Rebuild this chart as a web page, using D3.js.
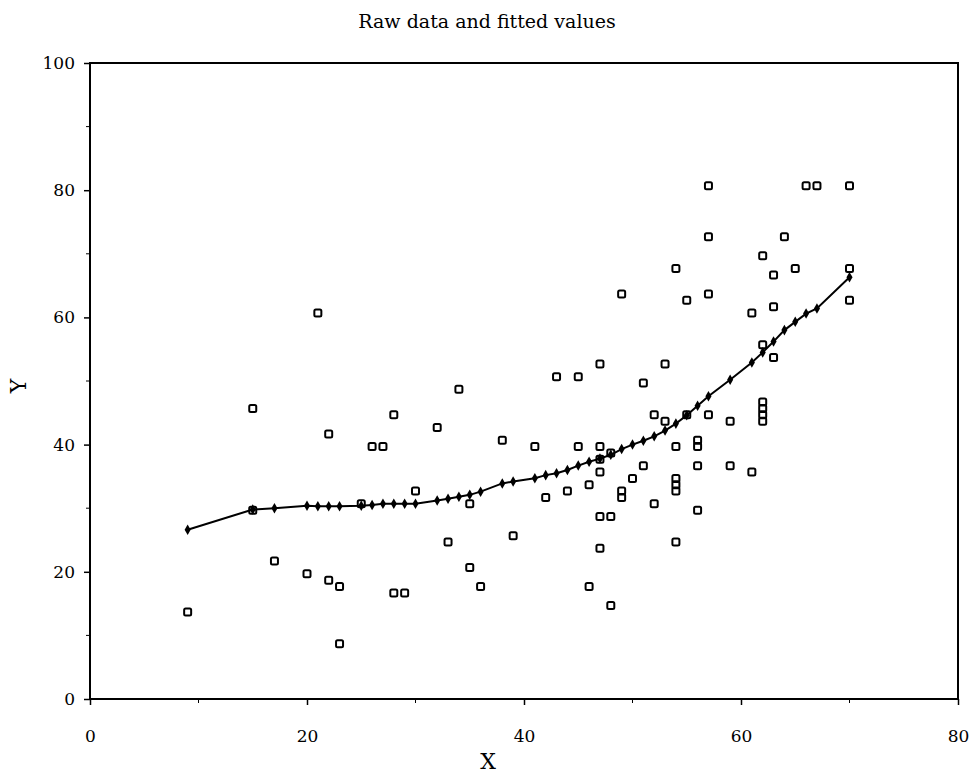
<!DOCTYPE html>
<html>
<head>
<meta charset="utf-8">
<script src="https://cdn.jsdelivr.net/npm/d3@7"></script>
<style>
  body { margin: 0; background: #fff; }
  text { font-family: "DejaVu Serif", "Liberation Serif", serif; fill: #000; }
</style>
</head>
<body>
<script>
// Width and height
var w = 970;
var h = 773;

// Raw data (x, y)
var rawX = [9, 15, 15, 17, 20, 21, 22, 22, 23, 23, 25, 26, 27, 28, 28, 29, 30, 32, 33, 34, 35, 35, 36,
  38, 39, 41, 42, 43, 44, 45, 45, 46, 46, 47, 47, 47, 47, 47, 47, 48, 48, 48, 49, 49, 49,
  50, 51, 51, 52, 52, 53, 53, 54, 54, 54, 54, 54, 54, 55, 55, 56, 56, 56, 56,
  57, 57, 57, 57, 59, 59, 61, 61, 62, 62, 62, 62, 62, 62, 63, 63, 63, 64, 65, 66, 67, 70, 70, 70];
var rawY = [14, 46, 30, 22, 20, 61, 42, 19, 18, 9, 31, 40, 40, 45, 17, 17, 33, 43, 25, 49, 31, 21, 18,
  41, 26, 40, 32, 51, 33, 51, 40, 34, 18, 53, 40, 38, 36, 29, 24, 29, 15, 39, 33, 32, 64,
  35, 37, 50, 45, 31, 44, 53, 40, 35, 34, 33, 25, 68, 45, 63, 41, 40, 37, 30,
  81, 73, 64, 45, 44, 37, 61, 36, 47, 46, 45, 44, 70, 56, 67, 62, 54, 73, 68, 81, 81, 81, 68, 63];

// Fitted values at each distinct x
var fitX = [9, 15, 17, 20, 21, 22, 23, 25, 26, 27, 28, 29, 30, 32, 33, 34, 35, 36, 38, 39,
  41, 42, 43, 44, 45, 46, 47, 48, 49, 50, 51, 52, 53, 54, 55, 56, 57, 59, 61, 62, 63, 64, 65, 66, 67, 70];
var fitY = [26.6, 29.8, 30.0, 30.4, 30.3, 30.3, 30.3, 30.4, 30.5, 30.7, 30.7, 30.7, 30.7, 31.2, 31.5, 31.8, 32.1, 32.6, 33.9, 34.2,
  34.7, 35.2, 35.5, 36.0, 36.7, 37.3, 37.8, 38.4, 39.3, 40.0, 40.6, 41.3, 42.2, 43.3, 44.6, 46.1, 47.6, 50.2, 52.9, 54.5, 56.2, 58.0, 59.3, 60.6, 61.4, 66.3];

// Tick labels
var xTicks = [0, 20, 40, 60, 80];
var yTicks = [0, 20, 40, 60, 80, 100];

var plotLeft = 90, plotRight = 958, plotTop = 63, plotBottom = 699;

var xScale = d3.scaleLinear().domain([0, 80]).range([plotLeft, plotRight]);
var yScale = d3.scaleLinear().domain([0, 100]).range([plotBottom, plotTop]);

var svg = d3.select("body")
  .append("svg")
  .attr("width", w)
  .attr("height", h);

// Frame
svg.append("rect")
  .attr("x", plotLeft)
  .attr("y", plotTop)
  .attr("width", plotRight - plotLeft)
  .attr("height", plotBottom - plotTop)
  .attr("fill", "none")
  .attr("stroke", "#000")
  .attr("stroke-width", 2);

// Axes
var xAxis = svg.append("g")
  .attr("transform", "translate(0," + plotBottom + ")")
  .call(d3.axisBottom(xScale).tickValues(xTicks).tickSize(6).tickPadding(25).tickFormat(d3.format("d")));
xAxis.append("g").selectAll("line")
  .data([10, 30, 50, 70])
  .enter()
  .append("line")
  .attr("x1", function(d) { return xScale(d); })
  .attr("x2", function(d) { return xScale(d); })
  .attr("y1", 0)
  .attr("y2", 4)
  .attr("stroke", "#000");

var yAxis = svg.append("g")
  .attr("transform", "translate(" + plotLeft + ",0)")
  .call(d3.axisLeft(yScale).tickValues(yTicks).tickSize(6).tickPadding(9).tickFormat(d3.format("d")));
yAxis.append("g").selectAll("line")
  .data([10, 30, 50, 70, 90])
  .enter()
  .append("line")
  .attr("y1", function(d) { return yScale(d); })
  .attr("y2", function(d) { return yScale(d); })
  .attr("x1", 0)
  .attr("x2", -4)
  .attr("stroke", "#000");

svg.selectAll(".domain").remove();
svg.selectAll(".tick line").attr("stroke", "#000").attr("stroke-width", 1.5);
svg.selectAll(".tick text")
  .style("font-family", "'DejaVu Serif', 'Liberation Serif', serif")
  .style("font-size", "17px");

// Titles
svg.append("text")
  .attr("x", 487)
  .attr("y", 28)
  .attr("text-anchor", "middle")
  .style("font-size", "19px")
  .text("Raw data and fitted values");

svg.append("text")
  .attr("x", 488)
  .attr("y", 769)
  .attr("text-anchor", "middle")
  .style("font-size", "22px")
  .text("X");

svg.append("text")
  .attr("transform", "translate(26,386) rotate(-90)")
  .attr("text-anchor", "middle")
  .style("font-size", "22px")
  .text("Y");

// Fitted line
var line = d3.line()
  .x(function(d, i) { return xScale(fitX[i]); })
  .y(function(d) { return yScale(d); });

svg.append("path")
  .datum(fitY)
  .attr("d", line)
  .attr("fill", "none")
  .attr("stroke", "#000")
  .attr("stroke-width", 2);

svg.append("g").selectAll("path")
  .data(fitY)
  .enter()
  .append("path")
  .attr("d", d3.symbol().type(d3.symbolDiamond).size(32))
  .attr("transform", function(d, i) {
    return "translate(" + xScale(fitX[i]) + "," + yScale(d) + ")";
  })
  .attr("fill", "#000");

// Raw data squares
svg.append("g").selectAll("rect")
  .data(rawY)
  .enter()
  .append("rect")
  .attr("x", function(d, i) { return xScale(rawX[i]) - 3.5; })
  .attr("y", function(d) { return yScale(d) - 1.5; })
  .attr("width", 7)
  .attr("height", 7)
  .attr("rx", 1.5)
  .attr("fill", "none")
  .attr("stroke", "#000")
  .attr("stroke-width", 2);
</script>
</body>
</html>
